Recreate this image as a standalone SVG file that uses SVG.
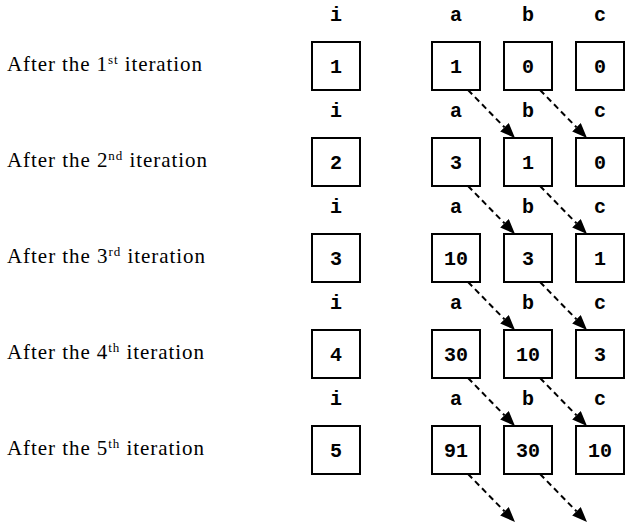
<svg xmlns="http://www.w3.org/2000/svg" width="625" height="525" viewBox="0 0 625 525">
<style>
.lbl{font-family:"Liberation Serif","Times New Roman",serif;font-size:21px;fill:#000}
.sup{font-size:13px}
.var{font-family:"Liberation Mono","Courier New",monospace;font-weight:bold;font-size:20px;text-anchor:middle;fill:#000}
.box{fill:#fff;stroke:#000;stroke-width:2}
.num{font-family:"Liberation Mono","Courier New",monospace;font-weight:bold;font-size:20px;text-anchor:middle;fill:#000}
.conn{stroke:#000;stroke-width:2;stroke-dasharray:6,4;fill:none}
</style>
<defs>
<marker id="ah" markerUnits="userSpaceOnUse" markerWidth="15" markerHeight="12" refX="0" refY="6" orient="auto" viewBox="0 0 15 12">
<path d="M0,0 L15,6 L0,12 z" fill="#000"/>
</marker>
</defs>
<g id="labels">
<text class="lbl" x="7" y="71" textLength="195" lengthAdjust="spacing">After the 1<tspan class="sup" dy="-7">st</tspan><tspan dy="7"> iteration</tspan></text>
<text class="lbl" x="7" y="167" textLength="200" lengthAdjust="spacing">After the 2<tspan class="sup" dy="-7">nd</tspan><tspan dy="7"> iteration</tspan></text>
<text class="lbl" x="7" y="263" textLength="198" lengthAdjust="spacing">After the 3<tspan class="sup" dy="-7">rd</tspan><tspan dy="7"> iteration</tspan></text>
<text class="lbl" x="7" y="359" textLength="197" lengthAdjust="spacing">After the 4<tspan class="sup" dy="-7">th</tspan><tspan dy="7"> iteration</tspan></text>
<text class="lbl" x="7" y="455" textLength="197" lengthAdjust="spacing">After the 5<tspan class="sup" dy="-7">th</tspan><tspan dy="7"> iteration</tspan></text>
</g>
<g id="row1">
<text class="var" x="336" y="21">i</text><text class="var" x="456" y="21">a</text><text class="var" x="528" y="21">b</text><text class="var" x="600" y="21">c</text>
<g id="i1"><rect class="box" x="312" y="42" width="48" height="48"/><text class="num" x="336" y="73">1</text></g>
<g id="a1"><rect class="box" x="432" y="42" width="48" height="48"/><text class="num" x="456" y="73">1</text></g>
<g id="b1"><rect class="box" x="504" y="42" width="48" height="48"/><text class="num" x="528" y="73">0</text></g>
<g id="c1"><rect class="box" x="576" y="42" width="48" height="48"/><text class="num" x="600" y="73">0</text></g>
</g>
<g id="row2">
<text class="var" x="336" y="117">i</text><text class="var" x="456" y="117">a</text><text class="var" x="528" y="117">b</text><text class="var" x="600" y="117">c</text>
<g id="i2"><rect class="box" x="312" y="138" width="48" height="48"/><text class="num" x="336" y="169">2</text></g>
<g id="a2"><rect class="box" x="432" y="138" width="48" height="48"/><text class="num" x="456" y="169">3</text></g>
<g id="b2"><rect class="box" x="504" y="138" width="48" height="48"/><text class="num" x="528" y="169">1</text></g>
<g id="c2"><rect class="box" x="576" y="138" width="48" height="48"/><text class="num" x="600" y="169">0</text></g>
</g>
<g id="row3">
<text class="var" x="336" y="213">i</text><text class="var" x="456" y="213">a</text><text class="var" x="528" y="213">b</text><text class="var" x="600" y="213">c</text>
<g id="i3"><rect class="box" x="312" y="234" width="48" height="48"/><text class="num" x="336" y="265">3</text></g>
<g id="a3"><rect class="box" x="432" y="234" width="48" height="48"/><text class="num" x="456" y="265">10</text></g>
<g id="b3"><rect class="box" x="504" y="234" width="48" height="48"/><text class="num" x="528" y="265">3</text></g>
<g id="c3"><rect class="box" x="576" y="234" width="48" height="48"/><text class="num" x="600" y="265">1</text></g>
</g>
<g id="row4">
<text class="var" x="336" y="309">i</text><text class="var" x="456" y="309">a</text><text class="var" x="528" y="309">b</text><text class="var" x="600" y="309">c</text>
<g id="i4"><rect class="box" x="312" y="330" width="48" height="48"/><text class="num" x="336" y="361">4</text></g>
<g id="a4"><rect class="box" x="432" y="330" width="48" height="48"/><text class="num" x="456" y="361">30</text></g>
<g id="b4"><rect class="box" x="504" y="330" width="48" height="48"/><text class="num" x="528" y="361">10</text></g>
<g id="c4"><rect class="box" x="576" y="330" width="48" height="48"/><text class="num" x="600" y="361">3</text></g>
</g>
<g id="row5">
<text class="var" x="336" y="405">i</text><text class="var" x="456" y="405">a</text><text class="var" x="528" y="405">b</text><text class="var" x="600" y="405">c</text>
<g id="i5"><rect class="box" x="312" y="426" width="48" height="48"/><text class="num" x="336" y="457">5</text></g>
<g id="a5"><rect class="box" x="432" y="426" width="48" height="48"/><text class="num" x="456" y="457">91</text></g>
<g id="b5"><rect class="box" x="504" y="426" width="48" height="48"/><text class="num" x="528" y="457">30</text></g>
<g id="c5"><rect class="box" x="576" y="426" width="48" height="48"/><text class="num" x="600" y="457">10</text></g>
</g>
<g id="connectors">
<line class="conn" x1="468" y1="90" x2="504.5" y2="127.3" marker-end="url(#ah)"/>
<line class="conn" x1="540" y1="90" x2="576.5" y2="127.3" marker-end="url(#ah)"/>
<line class="conn" x1="468" y1="186" x2="504.5" y2="223.3" marker-end="url(#ah)"/>
<line class="conn" x1="540" y1="186" x2="576.5" y2="223.3" marker-end="url(#ah)"/>
<line class="conn" x1="468" y1="282" x2="504.5" y2="319.3" marker-end="url(#ah)"/>
<line class="conn" x1="540" y1="282" x2="576.5" y2="319.3" marker-end="url(#ah)"/>
<line class="conn" x1="468" y1="378" x2="504.5" y2="415.3" marker-end="url(#ah)"/>
<line class="conn" x1="540" y1="378" x2="576.5" y2="415.3" marker-end="url(#ah)"/>
<line class="conn" x1="468" y1="474" x2="504.5" y2="511.3" marker-end="url(#ah)"/>
<line class="conn" x1="540" y1="474" x2="576.5" y2="511.3" marker-end="url(#ah)"/>
</g>
</svg>
